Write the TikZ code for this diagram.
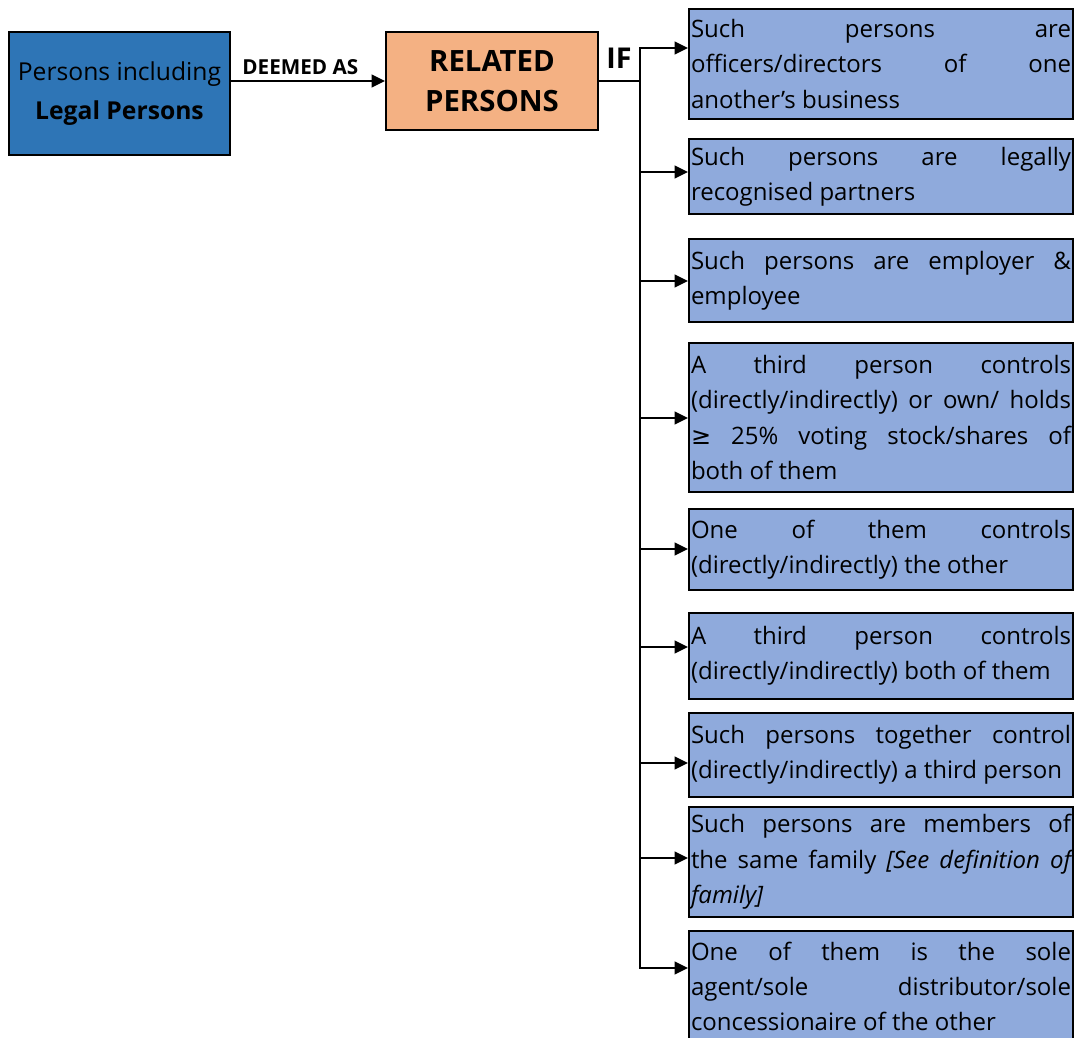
\documentclass[tikz,border=0pt]{standalone}
\usepackage{fontspec}
\setmainfont{Open Sans}
\newfontfamily\geqfont{DejaVu Sans}
\usepackage{tikz}
\usetikzlibrary{arrows.meta}
\setlength\parindent{0pt}
\definecolor{personblue}{HTML}{2E75B6}
\definecolor{relorange}{HTML}{F4B183}
\definecolor{condblue}{HTML}{8FAADC}
\tikzset{
  src/.style={draw=black, line width=1.5pt, fill=personblue, minimum width=165.75pt, minimum height=92.25pt, inner sep=0pt, align=center, font=\fontsize{18.5}{29}\selectfont},
  rel/.style={draw=black, line width=1.5pt, fill=relorange, minimum width=159pt, minimum height=73.5pt, inner sep=0pt, align=center, font=\fontsize{22}{30}\selectfont\bfseries},
  cond/.style={draw=black, line width=1.5pt, fill=condblue, anchor=north west, minimum width=288pt, inner xsep=1.5pt, inner ysep=0pt, text width=285pt, align=justify, font=\fontsize{18}{26.5}\selectfont},
  link/.style={line width=1.5pt, -{Triangle[length=10pt,width=9.5pt]}},
  trunk/.style={line width=1.5pt}
}

\begin{document}
\begin{tikzpicture}[x=0.75pt, y=-0.75pt]
        \useasboundingbox (0,0) rectangle (1079,1038);
        \node (pers) [src] at (119.5, 93.5) {Persons including\\\textbf{Legal Persons}};
        \node (rel) [rel] at (492, 81) {RELATED\\PERSONS};
        \node (if) [font=\fontsize{21.5}{24}\selectfont\bfseries] at (619, 58) {IF};
        \node (c1) [cond, minimum height=82.5pt] at (688, 8) {Such persons are\linebreak officers/directors of one\linebreak another’s business};
        \node (c2) [cond, minimum height=56.25pt] at (688, 138) {Such persons are legally\linebreak recognised partners};
        \node (c3) [cond, minimum height=62.25pt] at (688, 238) {Such persons are employer \&\linebreak employee};
        \node (c4) [cond, minimum height=111.75pt] at (688, 342) {A third person controls\linebreak (directly/indirectly) or own/ holds\linebreak {\geqfont ≥} 25\% voting stock/shares of\linebreak both of them};
        \node (c5) [cond, minimum height=60.75pt] at (688, 508) {One of them controls\linebreak (directly/indirectly) the other};
        \node (c6) [cond, minimum height=64.5pt] at (688, 612) {A third person controls\linebreak (directly/indirectly) both of them};
        \node (c7) [cond, minimum height=63pt] at (688, 712) {Such persons together control\linebreak (directly/indirectly) a third person};
        \node (c8) [cond, minimum height=82.5pt] at (688, 806) {Such persons are members of\linebreak the same family \textit{[See definition of\linebreak family]}};
        \node (c9) [cond, minimum height=83pt] at (688, 930) {One of them is the sole\linebreak agent/sole distributor/sole\linebreak concessionaire of the other};
        \coordinate (t1) at (640, 48);
        \coordinate (t2) at (640, 172);
        \coordinate (t3) at (640, 281);
        \coordinate (t4) at (640, 418);
        \coordinate (t5) at (640, 549);
        \coordinate (t6) at (640, 647);
        \coordinate (t7) at (640, 763);
        \coordinate (t8) at (640, 858);
        \coordinate (t9) at (640, 968);
        \draw [link] (rel.west -| pers.east) -- node [above=1pt, pos=0.45, font=\fontsize{15.5}{18}\selectfont\bfseries] {DEEMED AS} (rel.west);
        \draw [trunk] (rel.east) -- (rel.east -| t1);
        \draw [trunk, line cap=rect] (t1) -- (t9);
        \draw [link] (t1) -- (t1 -| c1.west);
        \draw [link] (t2) -- (t2 -| c2.west);
        \draw [link] (t3) -- (t3 -| c3.west);
        \draw [link] (t4) -- (t4 -| c4.west);
        \draw [link] (t5) -- (t5 -| c5.west);
        \draw [link] (t6) -- (t6 -| c6.west);
        \draw [link] (t7) -- (t7 -| c7.west);
        \draw [link] (t8) -- (t8 -| c8.west);
        \draw [link] (t9) -- (t9 -| c9.west);
\end{tikzpicture}
\end{document}
